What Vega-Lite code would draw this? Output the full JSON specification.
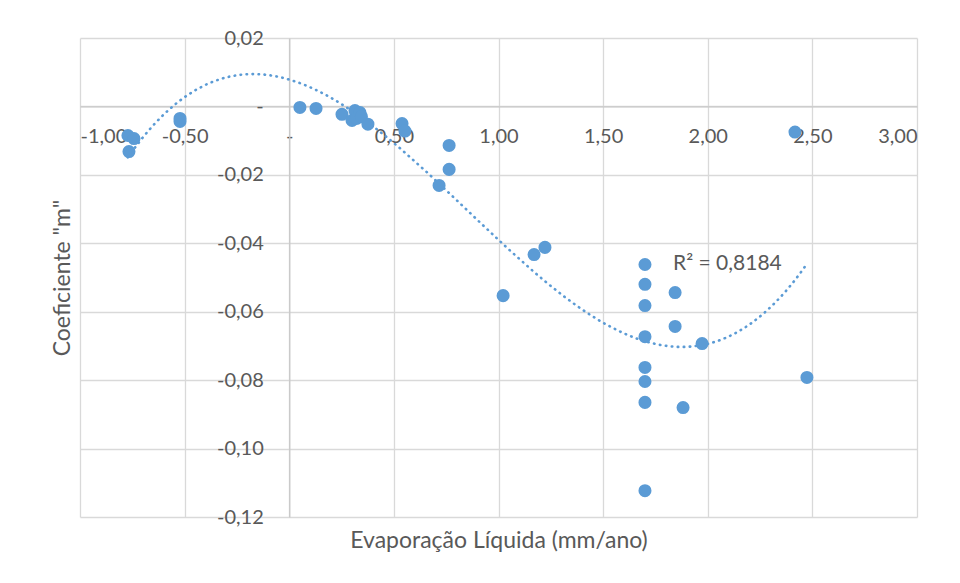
{
  "$schema": "https://vega.github.io/schema/vega-lite/v6.json",
  "width": 837,
  "height": 479,
  "autosize": {"type": "none"},
  "padding": {"left": 80, "top": 38, "right": 43, "bottom": 66},
  "background": "white",
  "config": {
    "locale": {"number": {"decimal": ",", "thousands": ".", "grouping": [3], "currency": ["", ""], "minus": "-"}},
    "view": {"stroke": null},
    "font": "Lato",
    "axis": {
      "labelFont": "Lato", "labelFontSize": 20, "labelColor": "#595959",
      "titleFont": "Lato", "titleFontSize": 23, "titleColor": "#595959", "titleFontWeight": "normal",
      "gridColor": "#d9d9d9", "gridWidth": 1.3, "domainColor": "#c8c8c8", "domainWidth": 1.3, "ticks": false
    }
  },
  "datasets": {
    "pts": [
      {"e": -0.771, "m": -0.0085},
      {"e": -0.742, "m": -0.0094},
      {"e": -0.766, "m": -0.0132},
      {"e": -0.522, "m": -0.0035},
      {"e": -0.522, "m": -0.0044},
      {"e": 0.051, "m": -0.0003},
      {"e": 0.128, "m": -0.0006},
      {"e": 0.252, "m": -0.0023},
      {"e": 0.314, "m": -0.0012},
      {"e": 0.338, "m": -0.0018},
      {"e": 0.300, "m": -0.0041},
      {"e": 0.322, "m": -0.0035},
      {"e": 0.345, "m": -0.003},
      {"e": 0.376, "m": -0.0052},
      {"e": 0.539, "m": -0.005},
      {"e": 0.553, "m": -0.0072},
      {"e": 0.764, "m": -0.0114},
      {"e": 0.764, "m": -0.0184},
      {"e": 0.716, "m": -0.0231},
      {"e": 1.022, "m": -0.0553},
      {"e": 1.170, "m": -0.0433},
      {"e": 1.222, "m": -0.0412},
      {"e": 1.700, "m": -0.0462},
      {"e": 1.700, "m": -0.052},
      {"e": 1.700, "m": -0.0582},
      {"e": 1.700, "m": -0.0673},
      {"e": 1.700, "m": -0.0763},
      {"e": 1.700, "m": -0.0804},
      {"e": 1.700, "m": -0.0865},
      {"e": 1.700, "m": -0.1123},
      {"e": 1.844, "m": -0.0544},
      {"e": 1.844, "m": -0.0643},
      {"e": 1.882, "m": -0.088},
      {"e": 1.973, "m": -0.0693},
      {"e": 2.474, "m": -0.0792},
      {"e": 2.417, "m": -0.0075}
    ],
    "note": [{"label": "R² = 0,8184"}]
  },
  "layer": [
    {
      "data": {"name": "pts"},
      "transform": [{"regression": "m", "on": "e", "method": "poly", "order": 3}],
      "mark": {"type": "line", "color": "#5b9bd5", "strokeWidth": 2.6, "strokeDash": [0.5, 5.5], "strokeCap": "round"},
      "encoding": {
        "x": {"field": "e", "type": "quantitative"},
        "y": {"field": "m", "type": "quantitative"}
      }
    },
    {
      "data": {"name": "pts"},
      "mark": {"type": "circle", "color": "#5b9bd5", "opacity": 1, "size": 170},
      "encoding": {
        "x": {
          "field": "e", "type": "quantitative",
          "scale": {"domain": [-1, 3], "nice": false, "zero": false},
          "axis": {
            "values": [-1, -0.5, 0, 0.5, 1, 1.5, 2, 2.5, 3],
            "format": ".2f",
            "labelExpr": "datum.value == 0 ? '-' : datum.label",
            "offset": -410.6,
            "labelPadding": 20,
            "title": "Evaporação Líquida (mm/ano)",
            "titleX": 418.5,
            "titleY": 433.6,
            "titleBaseline": "middle",
            "titleAlign": "center"
          }
        },
        "y": {
          "field": "m", "type": "quantitative",
          "scale": {"domain": [-0.12, 0.02], "nice": false, "zero": false},
          "axis": {
            "values": [-0.12, -0.1, -0.08, -0.06, -0.04, -0.02, 0, 0.02],
            "format": ".2f",
            "labelExpr": "datum.value == 0 ? '-' : datum.label",
            "offset": -209.25,
            "labelPadding": 26,
            "title": "Coeficiente \"m\"",
            "titleX": -227,
            "titleY": 239.5,
            "titleAngle": -90,
            "titleBaseline": "middle",
            "titleAlign": "center"
          }
        }
      }
    },
    {
      "data": {"name": "note"},
      "mark": {"type": "text", "align": "left", "baseline": "middle", "font": "Lato", "fontSize": 21, "color": "#595959"},
      "encoding": {
        "x": {"datum": 1.834, "type": "quantitative"},
        "y": {"datum": -0.0462, "type": "quantitative"},
        "text": {"field": "label"}
      }
    }
  ]
}
